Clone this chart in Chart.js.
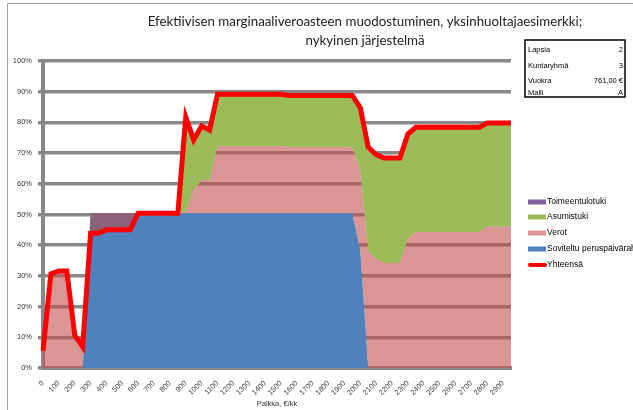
<!DOCTYPE html>
<html>
<head>
<meta charset="utf-8">
<script src="https://cdn.jsdelivr.net/npm/chart.js@4/dist/chart.umd.min.js"></script>
<style>
  html, body { margin: 0; padding: 0; background: #fff; }
  #chart { display: block; }
</style>
</head>
<body>
<canvas id="chart" width="633" height="410"></canvas>
<script>
// Palkka €/kk, one point per 50 €
const palkka = [0,50,100,150,200,250,300,350,400,450,500,550,600,650,700,750,800,850,900,950,
  1000,1050,1100,1150,1200,1250,1300,1350,1400,1450,1500,1550,1600,1650,1700,1750,1800,1850,1900,1950,
  2000,2050,2100,2150,2200,2250,2300,2350,2400,2450,2500,2550,2600,2650,2700,2750,2800,2850,2900,2950];

// stacked components, % of marginal euro
const soviteltu = [0,0,0,0,0,0,43.9,43.9,45,45,45,45,
  50.4,50.4,50.4,50.4,50.4,50.4,50.4,50.4,50.4,50.4,
  50.4,50.4,50.4,50.4,50.4,50.4,50.4,50.4,50.4,50.4,
  50.4,50.4,50.4,50.4,50.4,50.4,50.4,50.4,
  38.3,
  0,0,0,0,0,0,0,0,0,0,0,0,0,0,0,0,0,0,0];
const verot = [5.6,30.7,31.6,31.6,10.7,6.9,
  0,0,0,0,0,0,0,0,0,0,0,0,
  0.6,7.6,10.8,10.8,
  21.9,21.9,21.9,21.9,21.9,21.9,21.9,21.9,21.9,
  21.6,21.6,21.6,21.6,21.6,21.6,21.6,21.6,
  21.5,26.0,38.1,35.6,34.2,34.2,34.2,42.1,
  44.3,44.3,44.3,44.3,44.3,44.3,44.3,44.3,44.3,
  46.1,46.1,46.1,46.1];
const asumistuki = [0,0,0,0,0,0,0,0,0,0,0,0,0,0,0,0,0,0,
  30.7,16.3,17.6,16.3,
  16.9,16.9,16.9,16.9,16.9,16.9,16.9,16.9,16.9,
  16.8,16.8,16.8,16.8,16.8,16.8,16.8,16.8,
  16.9,20.5,33.8,33.9,34.2,34.2,34.2,34.1,
  34.1,34.1,34.1,34.1,34.1,34.1,34.1,34.1,34.1,
  33.7,33.7,33.7,33.7];
const toimeentulotuki = [0,0,0,0,0,0,6.5,6.5,5.4,5.4,5.4,5.4,
  0,0,0,0,0,0,0,0,0,0,0,0,0,0,0,0,0,0,0,0,0,0,0,0,0,0,0,0,
  0,0,0,0,0,0,0,0,0,0,0,0,0,0,0,0,0,0,0,0];
const yhteensa = [5.6,30.7,31.6,31.6,10.7,6.9,43.9,43.9,45,45,45,45,
  50.4,50.4,50.4,50.4,50.4,50.4,
  81.7,74.3,78.8,77.5,
  89.2,89.2,89.2,89.2,89.2,89.2,89.2,89.2,89.2,
  88.8,88.8,88.8,88.8,88.8,88.8,88.8,88.8,88.8,
  84.8,71.9,69.5,68.4,68.4,68.4,76.2,
  78.4,78.4,78.4,78.4,78.4,78.4,78.4,78.4,78.4,
  79.8,79.8,79.8,79.8];

const titleLines = ['Efektiivisen marginaaliveroasteen muodostuminen, yksinhuoltajaesimerkki;', 'nykyinen järjestelmä'];
const infoRows = [['Lapsia', '2'], ['Kuntaryhmä', '3'], ['Vuokra', '761,00 €'], ['Malli', 'A']];

const FAMILY = '"Liberation Sans", Arial, sans-serif';
const SMALL = '7.5px ' + FAMILY;

function area(label, data, color, fill, legendColor) {
  return {
    label, data, fill,
    backgroundColor: color,
    borderColor: 'transparent',
    borderWidth: 1,
    pointRadius: 0,
    tension: 0,
    order: 1,
    legendColor: legendColor || color,
  };
}

// frame, title, info box and legend
const decor = {
  id: 'decor',
  beforeDraw(chart) {
    const ctx = chart.ctx;
    ctx.save();
    ctx.fillStyle = '#fff';
    ctx.fillRect(0, 0, chart.width, chart.height);
    ctx.strokeStyle = '#a0a0a0';
    ctx.lineWidth = 1;
    ctx.beginPath();
    ctx.moveTo(7.5, chart.height);
    ctx.lineTo(7.5, 3.5);
    ctx.lineTo(chart.width, 3.5);
    ctx.stroke();
    ctx.restore();
  },
  afterDraw(chart) {
    const ctx = chart.ctx;
    ctx.save();
    ctx.fillStyle = '#222';
    ctx.font = '13.3px Lato, sans-serif';
    ctx.textAlign = 'center';
    ctx.textBaseline = 'middle';
    ctx.fillText(titleLines[0], 365, 22);
    ctx.fillText(titleLines[1], 365, 41);

    // info box
    ctx.strokeStyle = '#000';
    ctx.lineWidth = 1.5;
    ctx.strokeRect(525, 40, 100, 57);
    ctx.font = SMALL;
    ctx.fillStyle = '#000';
    const rowY = [50, 66, 81, 93];
    infoRows.forEach((r, i) => {
      ctx.textAlign = 'left';
      ctx.fillText(r[0], 528, rowY[i]);
      ctx.textAlign = 'right';
      ctx.fillText(r[1], 623, rowY[i]);
    });

    // legend, reverse of stacking order, total last
    const ds = chart.data.datasets;
    const items = [ds[3], ds[2], ds[1], ds[0], ds[4]];
    const ys = [202, 217, 233, 249, 265];
    ctx.textAlign = 'left';
    items.forEach((d, i) => {
      if (d.type === 'line' && !d.fill) {
        ctx.strokeStyle = d.borderColor;
        ctx.lineWidth = 4;
        ctx.lineCap = 'round';
        ctx.beginPath();
        ctx.moveTo(530, ys[i]);
        ctx.lineTo(545, ys[i]);
        ctx.stroke();
      } else {
        ctx.fillStyle = d.legendColor;
        ctx.fillRect(528, ys[i] - 2.5, 18, 5);
      }
      ctx.fillStyle = '#000';
      ctx.font = '8.5px ' + FAMILY;
      ctx.fillText(d.label, 547, ys[i]);
    });
    ctx.restore();
  }
};

new Chart(document.getElementById('chart').getContext('2d'), {
  type: 'line',
  data: {
    labels: palkka,
    datasets: [
      area('Soviteltu peruspäiväraha', soviteltu, '#4F81BD', 'origin'),
      area('Verot', verot, 'rgba(192,80,77,0.6)', '-1'),
      area('Asumistuki', asumistuki, '#9BBB59', '-1'),
      area('Toimeentulotuki', toimeentulotuki, '#8B6379', '-1', '#8064A2'),
      {
        type: 'line',
        label: 'Yhteensä',
        data: yhteensa,
        stack: 'total',
        fill: false,
        borderColor: '#FF0000',
        borderWidth: 5,
        pointRadius: 0,
        tension: 0,
        order: 0,
      },
    ],
  },
  options: {
    responsive: false,
    animation: false,
    devicePixelRatio: 1,
    layout: { padding: { top: 61, right: 122, left: 0, bottom: 0 } },
    plugins: {
      legend: { display: false },
      title: { display: false },
      tooltip: { enabled: false },
    },
    scales: {
      x: {
        stacked: true,
        offset: false,
        afterFit: (s) => { s.height = 42; },
        grid: { display: false },
        border: { display: true, color: '#8a8a8a', width: 4 },
        ticks: {
          autoSkip: false,
          minRotation: 45,
          maxRotation: 45,
          padding: 3,
          color: '#444',
          font: { family: FAMILY, size: 7.5 },
          callback: function (v, i) { return palkka[i] % 100 === 0 ? String(palkka[i]) : null; },
        },
        title: {
          display: true,
          text: 'Palkka, €/kk',
          color: '#333',
          font: { family: FAMILY, size: 7.5 },
          padding: { top: 0, bottom: 2 },
        },
      },
      y: {
        stacked: true,
        min: 0,
        max: 100,
        afterFit: (s) => { s.width = 43; },
        grid: { color: '#888888', lineWidth: 3.5, tickLength: 5 },
        border: { display: true, color: '#888888', width: 4 },
        ticks: {
          stepSize: 10,
          padding: 6,
          color: '#333',
          font: { family: FAMILY, size: 7.5 },
          callback: (v) => v + '%',
        },
      },
    },
  },
  plugins: [decor],
});
</script>
</body>
</html>
